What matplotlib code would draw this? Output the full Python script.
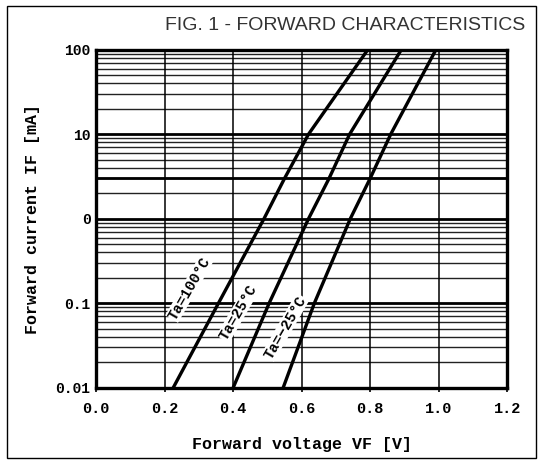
from __future__ import annotations

import numpy as np
import matplotlib
matplotlib.use("Agg")
import matplotlib.pyplot as plt
from matplotlib.patches import Rectangle

current_ma = [0.01, 0.1, 1, 3, 10, 100]

# forward voltage [V] for each ambient temperature
vf_100c = [0.225, 0.357, 0.49, 0.55, 0.62, 0.793]
vf_25c = [0.40, 0.505, 0.62, 0.68, 0.74, 0.891]
vf_m25c = [0.546, 0.637, 0.742, 0.80, 0.86, 0.992]

curve_labels = ["Ta=100°C", "Ta=25°C", "Ta=−25°C"]
label_pos = [(0.272, 0.15), (0.415, 0.078), (0.552, 0.052)]

x_ticks = [0.0, 0.2, 0.4, 0.6, 0.8, 1.0, 1.2]
x_tick_labels = ["0.0", "0.2", "0.4", "0.6", "0.8", "1.0", "1.2"]
y_ticks = [0.01, 0.1, 1, 10, 100]
y_tick_labels = ["0.01", "0.1", "0", "10", "100"]


def main() -> None:
    fig = plt.figure(figsize=(5.43, 4.65), dpi=100)
    ax = fig.add_axes([0.177, 0.166, 0.757, 0.727])

    mono = "Liberation Mono"

    ax.set_yscale("log")
    ax.set_xlim(0.0, 1.2)
    ax.set_ylim(0.01, 100)

    # horizontal grid: minor lines 2..9 per decade, thick at decades and 3 mA
    for dec in [0.01, 0.1, 1, 10]:
        for k in range(2, 10):
            ax.axhline(dec * k, color="#222222", lw=1.0, zorder=1)
        ax.axhline(dec, color="black", lw=2.0, zorder=1)
    ax.axhline(3, color="black", lw=2.0, zorder=1)
    for xv in x_ticks[1:-1]:
        ax.axvline(xv, color="black", lw=1.1, zorder=1)

    for vf in [vf_100c, vf_25c, vf_m25c]:
        ax.plot(vf, current_ma, color="black", lw=2.4, zorder=3,
                solid_capstyle="butt", solid_joinstyle="round")

    for txt, (xv, yv) in zip(curve_labels, label_pos):
        ax.text(xv, yv, txt, rotation=60, ha="center", va="center",
                fontsize=10.5, family=mono, weight="bold", zorder=4,
                bbox=dict(facecolor="white", edgecolor="none", pad=0.3))

    ax.set_xticks(x_ticks)
    ax.set_xticklabels(x_tick_labels)
    ax.set_yticks(y_ticks)
    ax.set_yticklabels(y_tick_labels)
    ax.yaxis.set_minor_locator(matplotlib.ticker.NullLocator())
    ax.tick_params(axis="x", length=3, width=1.2, labelsize=11, pad=7)
    ax.tick_params(axis="y", length=0, labelsize=10.5, pad=4)
    for lbl in ax.get_xticklabels() + ax.get_yticklabels():
        lbl.set_family(mono)
        lbl.set_weight("bold")

    for spine in ax.spines.values():
        spine.set_linewidth(2.4)
        spine.set_zorder(5)

    ax.set_xlabel("Forward voltage VF [V]", family=mono, weight="bold",
                  fontsize=12, labelpad=15)
    ax.set_ylabel("Forward current IF [mA]", family=mono, weight="bold",
                  fontsize=12, labelpad=11)

    fig.text(0.636, 0.945, "FIG. 1 - FORWARD CHARACTERISTICS",
             ha="center", va="center", fontsize=14,
             family="Liberation Sans", color="#333333")

    # outer frame around the whole figure
    fig.patches.append(Rectangle((0.013, 0.015), 0.975, 0.972,
                                 transform=fig.transFigure, fill=False,
                                 edgecolor="black", lw=1.0))

    fig.savefig("out.png", dpi=100)
    plt.close(fig)


if __name__ == "__main__":
    main()
